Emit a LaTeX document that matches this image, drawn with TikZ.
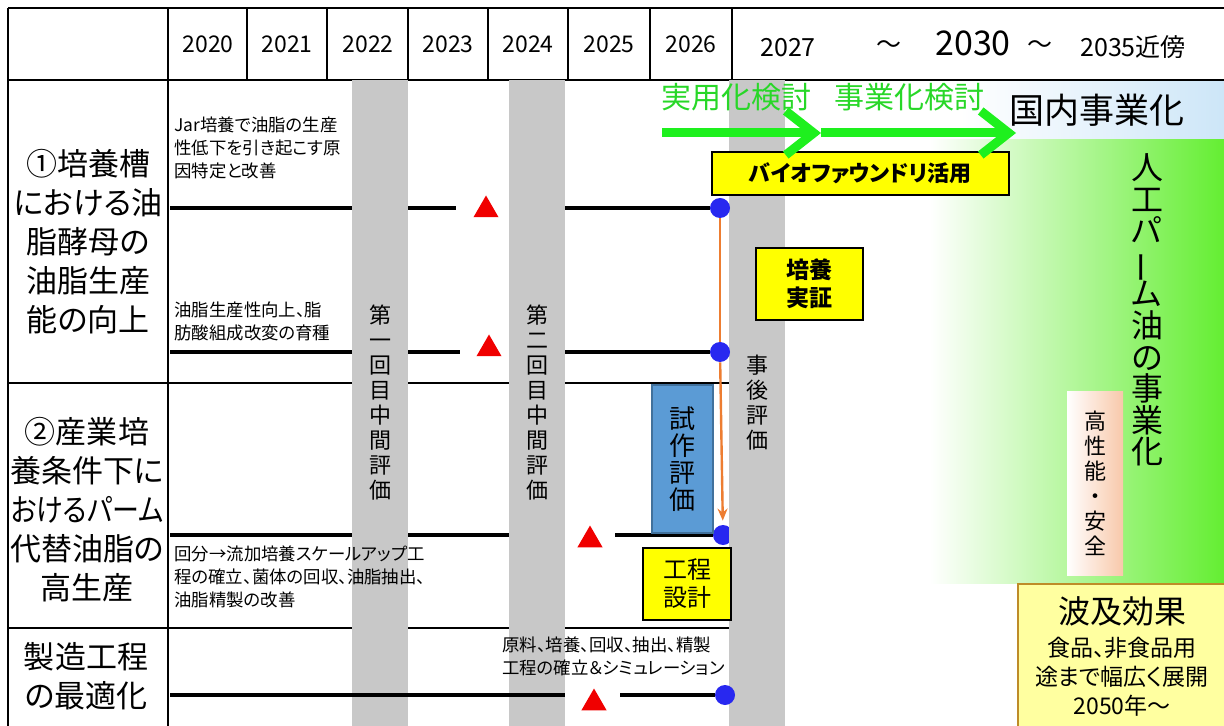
\documentclass[tikz,border=0pt]{standalone}
\usepackage{fontspec}
\setmainfont{Noto Sans CJK JP}[RawFeature=+palt]
\usepackage{graphicx}
\usepackage{tikz}
\usetikzlibrary{arrows.meta, shapes.geometric}

\definecolor{barGray}{RGB}{200,200,200}
\definecolor{ptBlue}{RGB}{40,40,240}
\definecolor{mkRed}{RGB}{240,0,0}
\definecolor{arrGreen}{RGB}{30,240,30}
\definecolor{txtGreen}{RGB}{40,215,40}
\definecolor{boxYellow}{RGB}{255,255,0}
\definecolor{paleYellow}{RGB}{255,255,160}
\definecolor{trialBlue}{RGB}{91,155,213}
\definecolor{trialEdge}{RGB}{65,113,156}
\definecolor{feedOrange}{RGB}{237,125,49}
\definecolor{skyTint}{RGB}{205,230,248}
\definecolor{leafGreen}{RGB}{100,238,50}
\definecolor{peach}{RGB}{248,200,170}
\definecolor{amberEdge}{RGB}{190,140,40}

% stacked (vertical) text may overlap its line boxes
\newcommand\tightlines{\lineskiplimit=-20pt\relax}

\tikzset{
  tabline/.style={line width=1.1pt},
  rowline/.style={line width=0.7pt},
  track/.style={line width=1.9pt},
  evalbar/.style={fill=barGray, inner sep=0pt, minimum width=28pt, minimum height=323pt,
    align=center, font=\fontsize{11}{12.5}\selectfont\tightlines},
  milestone/.style={regular polygon, regular polygon sides=3, fill=mkRed, inner sep=0pt, minimum size=14.5pt},
  goal/.style={circle, fill=ptBlue, inner sep=0pt, minimum size=10pt},
  taskbox/.style={draw, line width=0.8pt, fill=boxYellow, align=center, inner sep=0pt},
  trialbox/.style={draw=trialEdge, line width=0.8pt, fill=trialBlue, minimum width=30.5pt, minimum height=74pt,
    align=center, inner sep=0pt, font=\fontsize{13}{13.5}\selectfont\tightlines},
  note/.style={anchor=west, align=left, inner sep=0pt, font=\fontsize{8.7}{11.5}\selectfont},
  theme/.style={align=center, inner sep=0pt, font=\fontsize{15.5}{19.5}\selectfont},
  year/.style={inner sep=0pt, font=\fontsize{11.5}{13}\selectfont},
  phase/.style={draw=arrGreen, line width=4.5pt, -{Straight Barb[length=14pt, width=22pt]}},
  feed/.style={draw=feedOrange, line width=1.2pt},
}

\begin{document}
\begin{tikzpicture}[x=0.5pt, y=-0.5pt]
  \useasboundingbox (0,0) rectangle (1224,726);

  % shaded backdrop on the right
  \fill[left color=white, right color=skyTint] (960,80) rectangle (1224,140);
  \fill[left color=white, right color=leafGreen] (930,140) rectangle (1224,583);

  % table frame
  \draw[tabline] (8,8) -- (1224,8);
  \draw[tabline] (8,80) -- (1224,80);
  \draw[tabline] (8,8) -- (8,726);
  \draw[tabline] (168,8) -- (168,726);
  \foreach \x in {247,327,408,488,568,650,732}
    \draw[tabline] (\x,8) -- (\x,80);
  \foreach \y in {383,628}
    \draw[rowline] (8,\y) -- (729,\y);

  % years
  \foreach \yr/\x in {2020/208,2021/287,2022/368,2023/448,2024/528,2025/609,2026/691}
    \node[year] (y\yr) at (\x,44) {\yr};
  \node[year, font=\fontsize{12.5}{14}\selectfont] (y2027) at (788,48) {2027};
  \node[year, font=\fontsize{12.5}{14}\selectfont] (til1) at (889,47) {～};
  \node[year, font=\fontsize{17}{19}\selectfont] (y2030) at (973,43) {2030};
  \node[year, font=\fontsize{12.5}{14}\selectfont] (til2) at (1040,47) {～};
  \node[year, font=\fontsize{12.5}{14}\selectfont] (y2035) at (1133,47) {2035近傍};

  % themes
  \node[theme] (th1) at (88,242) {①培養槽\\における油\\脂酵母の\\油脂生産\\能の向上};
  \node[theme] (th2) at (87,510) {②産業培\\養条件下に\\\scalebox{0.87}[1]{おけるパーム}\\代替油脂の\\高生産};
  \node[theme] (th3) at (86,676) {製造工程\\の最適化};

  % tracks running under the review bars
  \coordinate (a1) at (170,208);  \coordinate (b1) at (456,208);
  \coordinate (a2) at (170,352);  \coordinate (b2) at (460,352);
  \coordinate (a3) at (170,535);  \coordinate (b3) at (510,535);
  \draw[track] (a1) -- (b1);
  \draw[track] (a2) -- (b2);
  \draw[track] (a3) -- (b3);
  \node[goal] (dot3) at (723,535) {};

  % review bars
  \node[evalbar] (mid1) at (380,403) {第\\一\\回\\目\\中\\間\\評\\価};
  \node[evalbar] (mid2) at (537,403) {第\\二\\回\\目\\中\\間\\評\\価};
  \node[evalbar] (post) at (757,403) {事\\後\\評\\価};

  % row 3 track over the bars
  \coordinate (a4) at (170,695);  \coordinate (b4) at (565,695);
  \draw[track] (a4) -- (b4);

  % milestones and goals
  \node[milestone] (m1) at (486,210) {};
  \node[milestone] (m2) at (489,349) {};
  \node[milestone] (m3) at (590,540) {};
  \node[milestone] (m4) at (594,703) {};
  \node[goal] (dot1) at (720,208) {};
  \node[goal] (dot2) at (720,352) {};
  \node[goal] (dot4) at (725,695) {};
  \coordinate (c1) at (565,208);
  \coordinate (c2) at (565,352);
  \coordinate (c3) at (615,535);
  \coordinate (c4) at (620,695);
  \draw[track] (c1) -- (dot1);
  \draw[track] (c2) -- (dot2);
  \draw[track] (c3) -- (dot3);
  \draw[track] (c4) -- (dot4);
  \draw[feed] (dot1) -- (dot2);
  \draw[feed, -{Stealth[length=6pt, width=5pt]}, shorten >=2pt] (dot2) -- (dot3);

  % notes
  \node[note] (n1) at (174,148) {Jar培養で油脂の生産\\性低下を引き起こす原\\因特定と改善};
  \node[note] (n2) at (174,321) {油脂生産性向上、脂\\肪酸組成改変の育種};
  \node[note] (n3) at (174,577) {回分→流加培養スケールアップ工\\程の確立、菌体の回収、油脂抽出、\\油脂精製の改善};
  \node[note] (n4) at (502,656) {原料、培養、回収、抽出、精製\\工程の確立＆シミュレーション};

  % boxes
  \node[trialbox] (trial) at (682.5,459) {試\\作\\評\\価};
  \node[taskbox, font=\bfseries\fontsize{11}{13}\selectfont, minimum width=148.5pt, minimum height=21.5pt] (bio) at (860.5,173.5) {バイオファウンドリ活用};
  \node[taskbox, font=\bfseries\fontsize{11.5}{14}\selectfont, minimum width=53.5pt, minimum height=36pt] (demo) at (809.5,284) {培養\\実証};
  \node[taskbox, font=\fontsize{12}{14}\selectfont, minimum width=44pt, minimum height=36pt] (design) at (687,584) {工程\\設計};

  % phases
  \node[text=txtGreen, inner sep=0pt, font=\fontsize{15}{17}\selectfont] (practical) at (736,97) {実用化検討};
  \node[text=txtGreen, inner sep=0pt, font=\fontsize{15}{17}\selectfont] (business) at (909,97) {事業化検討};
  \coordinate (p0) at (662,133);
  \coordinate (p1) at (821,133);
  \coordinate (p2) at (1016,133);
  \draw[phase] (p0) -- (p1);
  \draw[phase] (p1) -- (p2);
  \node[inner sep=0pt, font=\fontsize{17.5}{19}\selectfont] (domestic) at (1097,110) {国内事業化};

  % outcome
  \node[align=center, inner sep=0pt, font=\fontsize{16}{15.8}\selectfont\tightlines] (palm) at (1147,310)
    {人\\工\\パ\\\rotatebox[origin=c]{90}{ー}\\ム\\油\\の\\事\\業\\化};
  \node[left color=white, right color=peach, minimum width=28pt, minimum height=91.5pt, inner sep=0pt,
    align=center, font=\fontsize{11}{12.5}\selectfont\tightlines] (safety) at (1095,483.5)
    {高\\性\\能\\・\\安\\全};
  \node[draw=amberEdge, line width=0.8pt, fill=paleYellow, minimum width=104pt, minimum height=72pt,
    align=center, inner sep=0pt, font=\fontsize{11.5}{14.5}\selectfont] (effect) at (1122,656)
    {{\fontsize{16}{16}\selectfont 波及効果}\\[2pt]食品、非食品用\\途まで幅広く展開\\2050年～};
\end{tikzpicture}
\end{document}
